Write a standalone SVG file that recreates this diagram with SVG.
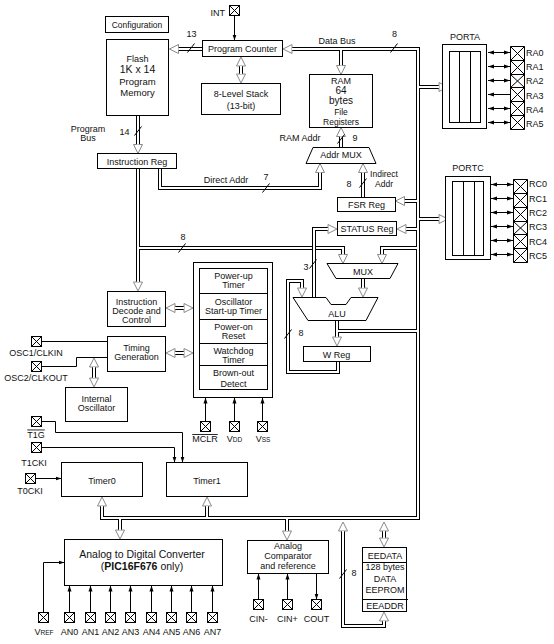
<svg xmlns="http://www.w3.org/2000/svg" width="554" height="644" viewBox="0 0 554 644">
<style>
.t{font-family:"Liberation Sans",Arial,sans-serif;font-size:9px;fill:#111;text-anchor:middle}
.l{text-anchor:start}
.r{text-anchor:end}
.bx{fill:#fff;stroke:#000;stroke-width:1}
.ln{fill:none;stroke:#000;stroke-width:1}
.bk{fill:none;stroke:#000;stroke-width:4}
.wh{fill:none;stroke:#fff;stroke-width:2}
.sm{font-size:6.5px}
</style>
<defs>
<marker id="ha" viewBox="-1 -6 12 12" refX="0" refY="0" markerWidth="12" markerHeight="12" markerUnits="userSpaceOnUse" orient="auto-start-reverse"><path d="M0,-4.5L9,0L0,4.5Z" fill="#fff" stroke="#8a8a8a" stroke-width="1"/></marker>
<marker id="sa" viewBox="0 -3 6 6" refX="6" refY="0" markerWidth="6" markerHeight="6" markerUnits="userSpaceOnUse" orient="auto-start-reverse"><path d="M0,-2L6,0L0,2Z" fill="#000"/></marker>
<g id="pin"><rect x="0" y="0" width="10" height="10" fill="#fff" stroke="#000"/><path d="M0,0L10,10M10,0L0,10" stroke="#000" fill="none"/></g>
</defs>
<rect width="554" height="644" fill="#fff"/>

<g id="connectors">
<g class="bk">
<path d="M202.5,49H178.5" marker-end="url(#ha)"/>
<path d="M292,49H418V518H102V506" marker-start="url(#ha)" marker-end="url(#ha)"/>
<path d="M341,49V65.5" marker-end="url(#ha)"/>
<path d="M418,87H439" marker-end="url(#ha)"/>
<path d="M418,201H404.5" marker-end="url(#ha)"/>
<path d="M418,219H439" marker-end="url(#ha)"/>
<path d="M418,229H406" marker-end="url(#ha)"/>
<path d="M418,248H382V254.5" marker-end="url(#ha)"/>
<path d="M418,331H337"/>
<path d="M337,320.5V337" marker-end="url(#ha)"/>
<path d="M207,518V506" marker-end="url(#ha)"/>
<path d="M120,518V530" marker-end="url(#ha)"/>
<path d="M287,518V531" marker-end="url(#ha)"/>
<path d="M384,531V538" marker-start="url(#ha)" marker-end="url(#ha)"/>
<path d="M384,621V626H343V531" marker-start="url(#ha)" marker-end="url(#ha)"/>
<path d="M138,115.5V144.5" marker-end="url(#ha)"/>
<path d="M138,168.5V282" marker-end="url(#ha)"/>
<path d="M138,248H343V254.5" marker-end="url(#ha)"/>
<path d="M160,168.5V188H320V172.5" marker-end="url(#ha)"/>
<path d="M363,197.5V172.5" marker-end="url(#ha)"/>
<path d="M341,147.5V136.5" marker-end="url(#ha)"/>
<path d="M241,66V74" marker-start="url(#ha)" marker-end="url(#ha)"/>
<path d="M175,308H184" marker-start="url(#ha)" marker-end="url(#ha)"/>
<path d="M175,353H184" marker-start="url(#ha)" marker-end="url(#ha)"/>
<path d="M94,367V378" marker-start="url(#ha)" marker-end="url(#ha)"/>
<path d="M363,278.5V288" marker-end="url(#ha)"/>
<path d="M338,361.5V372H288V281H302V288" marker-end="url(#ha)"/>
</g>
<g class="wh">
<path d="M202.5,49H178.5"/>
<path d="M292,49H418V518H102V506"/>
<path d="M341,49V65.5"/>
<path d="M418,87H439"/>
<path d="M418,201H404.5"/>
<path d="M418,219H439"/>
<path d="M418,229H406"/>
<path d="M418,248H382V254.5"/>
<path d="M418,331H337"/>
<path d="M337,320.5V337"/>
<path d="M207,518V506"/>
<path d="M120,518V530"/>
<path d="M287,518V531"/>
<path d="M384,531V538"/>
<path d="M384,621V626H343V531"/>
<path d="M138,115.5V144.5"/>
<path d="M138,168.5V282"/>
<path d="M138,248H343V254.5"/>
<path d="M160,168.5V188H320V172.5"/>
<path d="M363,197.5V172.5"/>
<path d="M341,147.5V136.5"/>
<path d="M241,66V74"/>
<path d="M175,308H184"/>
<path d="M175,353H184"/>
<path d="M94,367V378"/>
<path d="M363,278.5V288"/>
<path d="M338,361.5V372H288V281H302V288"/>
</g>
<path class="bk" d="M314,297.5V229H328" marker-end="url(#ha)"/>
<path class="wh" d="M314,297.5V229H328"/>
<g class="ln">
<path d="M234.5,15.5V40.5" marker-end="url(#sa)"/>
<path d="M41.5,341.5H107.5"/>
<path d="M41.5,366.5H76.5V357.5H107.5"/>
<path d="M205.5,421.5V397.5" marker-end="url(#sa)"/>
<path d="M234.5,421.5V397.5" marker-end="url(#sa)"/>
<path d="M262.5,421.5V397.5" marker-end="url(#sa)"/>
<path d="M41.5,421.5H55.5V432.5H182.5V462.5" marker-end="url(#sa)"/>
<path d="M41.5,447.5H174.5V462.5" marker-end="url(#sa)"/>
<path d="M35.5,478.5H61.5" marker-end="url(#sa)"/>
<path d="M43.5,612.5V562.5H64.5" marker-end="url(#sa)"/>
<path d="M69.5,612.5V585.5" marker-end="url(#sa)"/>
<path d="M90.5,612.5V585.5" marker-end="url(#sa)"/>
<path d="M110.5,612.5V585.5" marker-end="url(#sa)"/>
<path d="M130.5,612.5V585.5" marker-end="url(#sa)"/>
<path d="M151.5,612.5V585.5" marker-end="url(#sa)"/>
<path d="M171.5,612.5V585.5" marker-end="url(#sa)"/>
<path d="M191.5,612.5V585.5" marker-end="url(#sa)"/>
<path d="M212.5,612.5V585.5" marker-end="url(#sa)"/>
<path d="M258.5,599.5V573.5" marker-end="url(#sa)"/>
<path d="M287.5,599.5V573.5" marker-end="url(#sa)"/>
<path d="M316.5,573.5V599.5" marker-end="url(#sa)"/>
<path d="M488,52.5H510" marker-start="url(#sa)" marker-end="url(#sa)"/>
<path d="M488,66.5H510" marker-start="url(#sa)" marker-end="url(#sa)"/>
<path d="M488,80.5H510" marker-start="url(#sa)" marker-end="url(#sa)"/>
<path d="M488,94.5H510" marker-start="url(#sa)"/>
<path d="M488,108.5H510" marker-start="url(#sa)" marker-end="url(#sa)"/>
<path d="M488,122.5H510" marker-start="url(#sa)" marker-end="url(#sa)"/>
<path d="M491,184.5H513" marker-start="url(#sa)" marker-end="url(#sa)"/>
<path d="M491,198.5H513" marker-start="url(#sa)" marker-end="url(#sa)"/>
<path d="M491,212.5H513" marker-start="url(#sa)" marker-end="url(#sa)"/>
<path d="M491,226.5H513" marker-start="url(#sa)" marker-end="url(#sa)"/>
<path d="M491,240.5H513" marker-start="url(#sa)" marker-end="url(#sa)"/>
<path d="M491,254.5H513" marker-start="url(#sa)" marker-end="url(#sa)"/>
<path d="M187.5,52.5L194.5,43.5M390.5,52.5L397.5,43.5M134.5,135.5L141.5,126.5M262.5,192.5L269.5,183.5M178.5,252.5L185.5,243.5M337.5,143.5L344.5,134.5M359.5,187.5L366.5,178.5M309.5,268.5L316.5,259.5M284.5,338.5L291.5,329.5M339.5,578.5L346.5,569.5"/>
</g>
<g class="t">
<text x="337" y="44">Data Bus</text>
<text x="394.5" y="37">8</text>
<text x="191.5" y="37">13</text>
<text x="88" y="131.5">Program</text>
<text x="88" y="140.5">Bus</text>
<text x="124.5" y="135">14</text>
<text x="226" y="182.5">Direct Addr</text>
<text x="266" y="179.5">7</text>
<text x="300" y="141">RAM Addr</text>
<text x="355" y="140.5">9</text>
<text x="384" y="177" style="font-size:8.5px">Indirect</text>
<text x="384" y="187" style="font-size:8.5px">Addr</text>
<text x="349" y="187">8</text>
<text x="183" y="240">8</text>
<text x="306" y="270">3</text>
<text x="301" y="335.5">8</text>
<text x="354" y="575.5">8</text>
</g>
</g>

<g id="configuration"><rect class="bx" x="105.5" y="16.5" width="63" height="16"/><text class="t" x="137" y="27.5" style="font-size:8.5px">Configuration</text></g>
<g id="flash"><rect class="bx" x="106.5" y="39.5" width="62" height="76"/>
<text class="t" x="137.5" y="61.5">Flash</text>
<text class="t" x="137.5" y="72.5" style="font-size:10.5px">1K x 14</text>
<text class="t" x="137.5" y="85" style="font-size:9.5px">Program</text>
<text class="t" x="137.5" y="95.5" style="font-size:9.5px">Memory</text></g>
<g id="int"><use href="#pin" x="229.5" y="5.5"/><text class="t r" x="225" y="15.5">INT</text></g>
<g id="program-counter"><rect class="bx" x="202.5" y="40.5" width="80" height="16"/><text class="t" x="242.5" y="52">Program Counter</text></g>
<g id="stack"><rect class="bx" x="201.5" y="83.5" width="79" height="31"/><text class="t" x="241" y="97">8-Level Stack</text><text class="t" x="241" y="108.5">(13-bit)</text></g>
<g id="ram"><rect class="bx" x="309.5" y="74.5" width="63" height="53"/>
<text class="t" x="341" y="83.5">RAM</text>
<text class="t" x="341" y="93.5" style="font-size:10px">64</text>
<text class="t" x="341" y="103.5" style="font-size:10px">bytes</text>
<text class="t" x="341" y="115" style="font-size:8.5px">File</text>
<text class="t" x="341" y="124.5" style="font-size:8.5px">Registers</text></g>
<g id="addr-mux"><polygon class="bx" points="313,147.5 369,147.5 376,163.5 306,163.5"/><text class="t" x="341" y="158">Addr MUX</text></g>
<g id="instruction-reg"><rect class="bx" x="97.5" y="153.5" width="79" height="15"/><text class="t" x="137" y="164.5">Instruction Reg</text></g>
<g id="fsr-reg"><rect class="bx" x="337.5" y="197.5" width="58" height="14"/><text class="t" x="366.5" y="207.5">FSR Reg</text></g>
<g id="status-reg"><rect class="bx" x="337.5" y="221.5" width="59" height="14"/><text class="t" x="367" y="232">STATUS Reg</text></g>
<g id="porta"><rect class="bx" x="442.5" y="44.5" width="44" height="84"/><rect class="bx" x="449.5" y="51.5" width="31" height="71"/><path class="ln" d="M459.5,51.5V122.5M470.5,51.5V122.5"/><text class="t" x="465" y="40">PORTA</text></g>
<g id="porta-pins"><path class="ln" style="fill:#fff" d="M510.5,46.5H524.5V129.5H510.5Z"/><path class="ln" d="M510.5,60.5H524.5M510.5,74.5H524.5M510.5,87.5H524.5M510.5,101.5H524.5M510.5,115.5H524.5M510.5,46.5L524.5,60.5M524.5,46.5L510.5,60.5M510.5,60.5L524.5,74.5M524.5,60.5L510.5,74.5M510.5,74.5L524.5,87.5M524.5,74.5L510.5,87.5M510.5,87.5L524.5,101.5M524.5,87.5L510.5,101.5M510.5,101.5L524.5,115.5M524.5,101.5L510.5,115.5M510.5,115.5L524.5,129.5M524.5,115.5L510.5,129.5"/>
<text class="t l" x="526" y="55.5">RA0</text><text class="t l" x="526" y="69.5">RA1</text><text class="t l" x="526" y="84">RA2</text><text class="t l" x="526" y="98.5">RA3</text><text class="t l" x="526" y="112.5">RA4</text><text class="t l" x="526" y="126.5">RA5</text></g>
<g id="portc"><rect class="bx" x="445.5" y="176.5" width="45" height="83"/><rect class="bx" x="452.5" y="181.5" width="31" height="74"/><path class="ln" d="M463.5,181.5V255.5M474.5,181.5V255.5"/><text class="t" x="468" y="171">PORTC</text></g>
<g id="portc-pins"><path class="ln" style="fill:#fff" d="M513.5,179.5H527.5V262.5H513.5Z"/><path class="ln" d="M513.5,193.5H527.5M513.5,207.5H527.5M513.5,221.5H527.5M513.5,234.5H527.5M513.5,248.5H527.5M513.5,179.5L527.5,193.5M527.5,179.5L513.5,193.5M513.5,193.5L527.5,207.5M527.5,193.5L513.5,207.5M513.5,207.5L527.5,221.5M527.5,207.5L513.5,221.5M513.5,221.5L527.5,234.5M527.5,221.5L513.5,234.5M513.5,234.5L527.5,248.5M527.5,234.5L513.5,248.5M513.5,248.5L527.5,262.5M527.5,248.5L513.5,262.5"/>
<text class="t l" x="529" y="186.5">RC0</text><text class="t l" x="529" y="201.5">RC1</text><text class="t l" x="529" y="215.5">RC2</text><text class="t l" x="529" y="230">RC3</text><text class="t l" x="529" y="244.5">RC4</text><text class="t l" x="529" y="259">RC5</text></g>
<g id="power-block"><rect class="bx" x="193.5" y="262.5" width="79" height="135"/><rect class="bx" x="199.5" y="268.5" width="68" height="121"/><path class="ln" d="M199.5,293.5H267.5M199.5,319.5H267.5M199.5,343.5H267.5M199.5,365.5H267.5"/>
<text class="t" x="233.5" y="278.5">Power-up</text><text class="t" x="233.5" y="288">Timer</text>
<text class="t" x="233.5" y="304.5">Oscillator</text><text class="t" x="233.5" y="314">Start-up Timer</text>
<text class="t" x="233.5" y="329.5">Power-on</text><text class="t" x="233.5" y="338.5">Reset</text>
<text class="t" x="233.5" y="353.5">Watchdog</text><text class="t" x="233.5" y="362.5">Timer</text>
<text class="t" x="233.5" y="375.5">Brown-out</text><text class="t" x="233.5" y="386.5">Detect</text></g>
<g id="instruction-decode"><rect class="bx" x="107.5" y="291.5" width="58" height="35"/><text class="t" x="136.5" y="304.5">Instruction</text><text class="t" x="136.5" y="313.5">Decode and</text><text class="t" x="136.5" y="322.5">Control</text></g>
<g id="timing-generation"><rect class="bx" x="107.5" y="336.5" width="58" height="35"/><text class="t" x="136.5" y="350.5">Timing</text><text class="t" x="136.5" y="360">Generation</text></g>
<g id="internal-oscillator"><rect class="bx" x="65.5" y="387.5" width="62" height="34"/><text class="t" x="96.5" y="401.5">Internal</text><text class="t" x="96.5" y="411">Oscillator</text></g>
<g id="osc1"><use href="#pin" x="31.5" y="336.5"/><text class="t" x="36" y="356">OSC1/CLKIN</text></g>
<g id="osc2"><use href="#pin" x="31.5" y="361.5"/><text class="t" x="36" y="381">OSC2/CLKOUT</text></g>
<g id="mux"><polygon class="bx" points="327,263.5 398,263.5 390,278.5 336,278.5"/><text class="t" x="363" y="274.5">MUX</text></g>
<g id="alu"><polygon class="bx" points="293,297.5 326,297.5 331,304.5 346,304.5 351,297.5 378,297.5 366,320.5 308,320.5"/><text class="t" x="337" y="317">ALU</text></g>
<g id="w-reg"><rect class="bx" x="303.5" y="346.5" width="67" height="15"/><text class="t" x="336.5" y="357.5">W Reg</text></g>
<g id="mclr"><use href="#pin" x="200.5" y="421.5"/><text class="t" x="205" y="442" style="text-decoration:overline">MCLR</text></g>
<g id="vdd"><use href="#pin" x="229.5" y="421.5"/><text class="t" x="234.5" y="442">V<tspan class="sm">DD</tspan></text></g>
<g id="vss"><use href="#pin" x="257.5" y="421.5"/><text class="t" x="263" y="442">V<tspan class="sm">SS</tspan></text></g>
<g id="t1g"><use href="#pin" x="31.5" y="416.5"/><text class="t" x="36" y="437.5" style="text-decoration:overline">T1G</text></g>
<g id="t1cki"><use href="#pin" x="31.5" y="442.5"/><text class="t" x="34" y="465.5">T1CKI</text></g>
<g id="t0cki"><use href="#pin" x="25.5" y="473.5"/><text class="t" x="30" y="494">T0CKI</text></g>
<g id="timer0"><rect class="bx" x="61.5" y="462.5" width="81" height="34"/><text class="t" x="102" y="484">Timer0</text></g>
<g id="timer1"><rect class="bx" x="166.5" y="462.5" width="81" height="34"/><text class="t" x="207" y="484">Timer1</text></g>
<g id="adc"><rect class="bx" x="64.5" y="539.5" width="158" height="46"/><text class="t" x="142" y="558" style="font-size:10.5px">Analog to Digital Converter</text><text class="t" x="142" y="570" style="font-size:10.5px">(<tspan font-weight="bold">PIC16F676</tspan> only)</text></g>
<g id="vref"><use href="#pin" x="38.5" y="612.5"/><text class="t" x="44" y="634.5">V<tspan class="sm">REF</tspan></text></g>
<g id="an-pins">
<use href="#pin" x="64.5" y="612.5"/><use href="#pin" x="85.5" y="612.5"/><use href="#pin" x="105.5" y="612.5"/><use href="#pin" x="125.5" y="612.5"/><use href="#pin" x="146.5" y="612.5"/><use href="#pin" x="166.5" y="612.5"/><use href="#pin" x="186.5" y="612.5"/><use href="#pin" x="207.5" y="612.5"/>
<text class="t" x="69.5" y="634.5">AN0</text><text class="t" x="90.5" y="634.5">AN1</text><text class="t" x="110.5" y="634.5">AN2</text><text class="t" x="130.5" y="634.5">AN3</text><text class="t" x="151.5" y="634.5">AN4</text><text class="t" x="171.5" y="634.5">AN5</text><text class="t" x="191.5" y="634.5">AN6</text><text class="t" x="212.5" y="634.5">AN7</text></g>
<g id="comparator"><rect class="bx" x="247.5" y="540.5" width="81" height="33"/><text class="t" x="288" y="548.5">Analog</text><text class="t" x="288" y="559">Comparator</text><text class="t" x="288" y="569">and reference</text></g>
<g id="cin-minus"><use href="#pin" x="253.5" y="599.5"/><text class="t" x="258.5" y="622">CIN-</text></g>
<g id="cin-plus"><use href="#pin" x="282.5" y="599.5"/><text class="t" x="287.5" y="622">CIN+</text></g>
<g id="cout"><use href="#pin" x="311.5" y="599.5"/><text class="t" x="316.5" y="622">COUT</text></g>
<g id="eeprom"><rect class="bx" x="362.5" y="547.5" width="44" height="64"/><path class="ln" d="M362.5,562.5H406.5M362.5,599.5H408"/>
<text class="t" x="385" y="558.5">EEDATA</text><text class="t" x="385" y="570">128 bytes</text><text class="t" x="385" y="581.5">DATA</text><text class="t" x="385" y="593">EEPROM</text><text class="t" x="385" y="608.5">EEADDR</text></g>
</svg>
